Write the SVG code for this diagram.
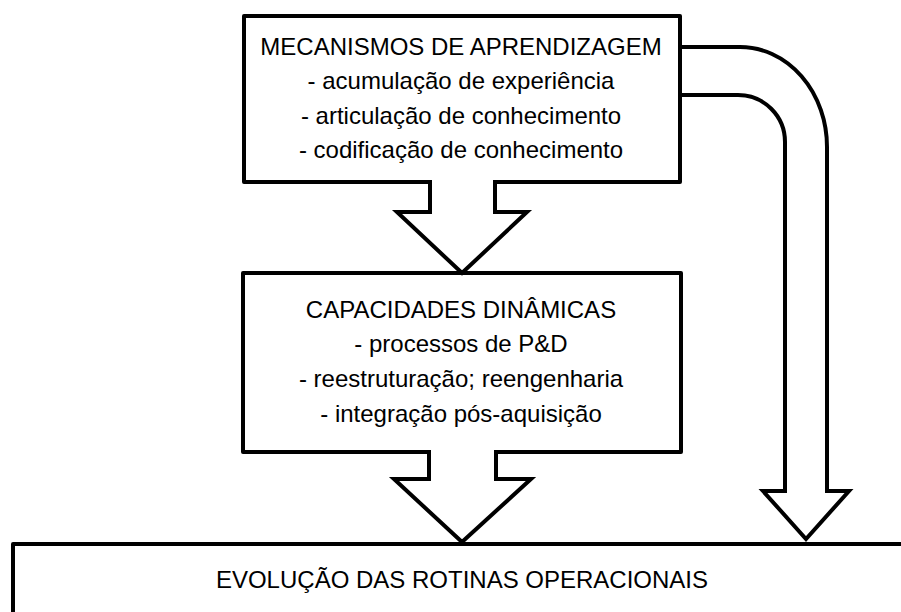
<svg xmlns="http://www.w3.org/2000/svg" width="901" height="612" viewBox="0 0 901 612">
<style>
.box{fill:#fff;stroke:#000;stroke-width:4;stroke-linejoin:round}
.arr{fill:none;stroke:#000;stroke-width:4;stroke-linejoin:miter;stroke-miterlimit:10}
.fillw{fill:#fff;stroke:none}
text{font-family:"Liberation Sans",Arial,sans-serif;font-size:24px;fill:#000;text-anchor:middle}
</style>
<rect width="901" height="612" fill="#fff"/>
<g id="node-bottom">
<path class="box" d="M13,614 V544 H905"/>
<text x="462" y="588">EVOLUÇÃO DAS ROTINAS OPERACIONAIS</text>
</g>
<g id="node-top">
<rect class="box" x="244" y="16" width="436" height="166"/>
<text x="461" y="55">MECANISMOS DE APRENDIZAGEM</text>
<text x="461" y="89">- acumulação de experiência</text>
<text x="461" y="124">- articulação de conhecimento</text>
<text x="461" y="158">- codificação de conhecimento</text>
</g>
<g id="node-middle">
<rect class="box" x="243" y="273" width="438" height="179"/>
<text x="461" y="318">CAPACIDADES DINÂMICAS</text>
<text x="461" y="352">- processos de P&amp;D</text>
<text x="461" y="387">- reestruturação; reengenharia</text>
<text x="461" y="422">- integração pós-aquisição</text>
</g>
<g id="connectors">
<g id="arrow-top-middle">
<path class="fillw" d="M432,178 H493 V212 H527 L462,273 L397,212 H432 Z"/>
<path class="arr" d="M430,182 V212 H397 L462,273 L527,212 H495 V182"/>
</g>
<g id="arrow-middle-bottom">
<path class="fillw" d="M431,448 H494 V479 H531 L462,542 L394,479 H431 Z"/>
<path class="arr" d="M429,452 V479 H394 L462,542 L531,479 H496 V452"/>
</g>
<g id="arrow-top-bottom">
<path class="arr" d="M680,47 H740 A87,100 0 0 1 827,147 V491 H849 L806,539 L763,491 H785 V142 A47,47 0 0 0 738,95 H680"/>
</g>
</g>
</svg>
